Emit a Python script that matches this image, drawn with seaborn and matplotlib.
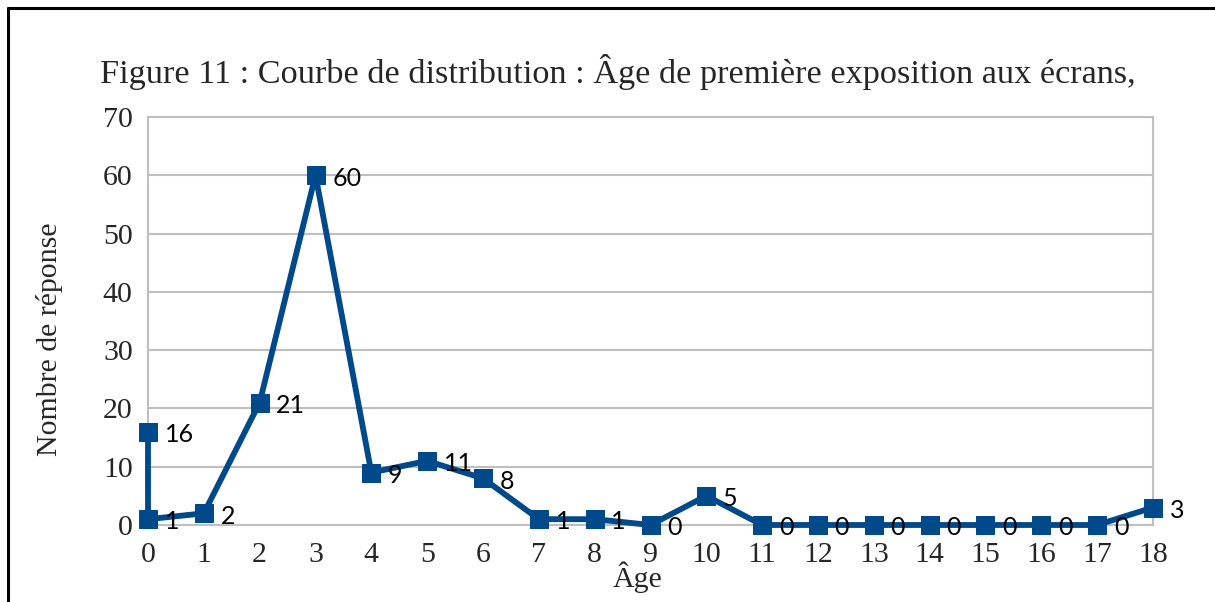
import matplotlib
matplotlib.use("Agg")
import matplotlib.pyplot as plt
import seaborn as sns
import pandas as pd
from matplotlib.lines import Line2D

# Data
ages = [0, 0, 1, 2, 3, 4, 5, 6, 7, 8, 9, 10, 11, 12, 13, 14, 15, 16, 17, 18]
counts = [16, 1, 2, 21, 60, 9, 11, 8, 1, 1, 0, 5, 0, 0, 0, 0, 0, 0, 0, 3]
x_ticks = list(range(0, 19))
y_ticks = [0, 10, 20, 30, 40, 50, 60, 70]

title = "Figure 11 : Courbe de distribution : Âge de première exposition aux écrans,"
xlabel = "Âge"
ylabel = "Nombre de réponse"

sns.set_theme(style="white")
plt.rcParams['font.family'] = ['Liberation Serif', 'DejaVu Serif']

df = pd.DataFrame({"age": ages, "n": counts})

fig = plt.figure(figsize=(12.15, 6.02), dpi=100)
ax = fig.add_axes([148/1215, 1-525/602, (1153-148)/1215, (525-117)/602])

color = "#004A8B"
sns.lineplot(data=df, x="age", y="n", ax=ax, estimator=None, sort=False,
             color=color, linewidth=4.2, marker="s", markersize=13.5,
             markeredgecolor=color, markerfacecolor=color, zorder=5, clip_on=False)

for xv, yv in zip(ages, counts):
    ax.annotate(str(yv), (xv, yv), xytext=(12, -2), textcoords="offset points",
                ha="left", va="center", fontsize=18, family="Lato", color="black",
                zorder=6)

ax.set_xlim(0, 18)
ax.set_ylim(0, 70)
ax.set_xticks(x_ticks)
ax.set_yticks(y_ticks)
ax.set_xticklabels([str(t) for t in x_ticks], fontsize=21.5)
ax.set_yticklabels([str(t) for t in y_ticks], fontsize=21.5)
ax.tick_params(axis="x", length=0, pad=12)
ax.tick_params(axis="y", length=0, pad=11)
ax.grid(axis="y", color="#BFBFBF", linewidth=1.5)
ax.grid(axis="x", visible=False)
for s in ax.spines.values():
    s.set_color("#BFBFBF")
    s.set_linewidth(1.5)

ax.set_xlabel(xlabel, fontsize=21.5)
ax.xaxis.set_label_coords(0.487, -0.128)
ax.set_ylabel(ylabel, fontsize=21.5)
ax.yaxis.set_label_coords(-0.098, 0.455)
ax.yaxis.label.set_va("center")
ax.xaxis.label.set_va("center")

fig.text(100/1215, 1-72/602, title, fontsize=24.7, ha="left", va="center")

# outer frame (left and top)
fig.add_artist(Line2D([8/1215, 8/1215], [0, 1-8/602], transform=fig.transFigure,
                      color="black", linewidth=2.2))
fig.add_artist(Line2D([8/1215, 1], [1-8/602, 1-8/602], transform=fig.transFigure,
                      color="black", linewidth=2.2))

fig.savefig("out.png", dpi=100, facecolor="white")
